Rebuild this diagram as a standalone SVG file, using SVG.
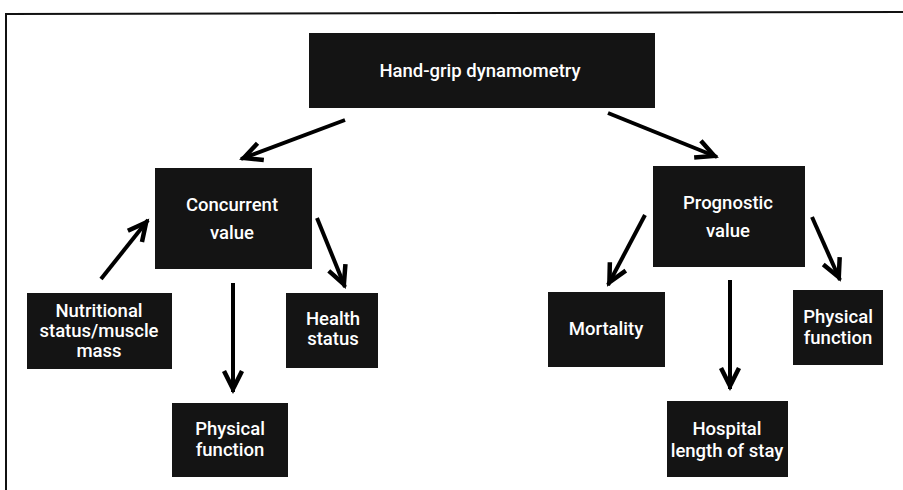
<svg xmlns="http://www.w3.org/2000/svg" width="903" height="490" viewBox="0 0 903 490">
  <style>
    .box { fill: #141414; }
    .lbl { fill: #ffffff; font-family: Roboto, "Liberation Sans", Arial, sans-serif; font-size: 18.5px; font-weight: 500; text-anchor: middle; }
    .arr { stroke: #000; stroke-width: 4; fill: none; marker-end: url(#head); }
    .frame { stroke: #111; stroke-width: 2; fill: none; }
  </style>
  <defs>
    <marker id="head" markerUnits="userSpaceOnUse" markerWidth="40" markerHeight="40" refX="0" refY="0" orient="auto" overflow="visible">
      <path d="M-21,-9 L-3,0 L-21,9" fill="none" stroke="#000" stroke-width="4.5" stroke-linejoin="miter" stroke-miterlimit="10"/>
    </marker>
  </defs>
  <rect width="903" height="490" fill="#ffffff"/>
  <path class="frame" d="M6,490 L6,14 L903,12"/>

  <g id="connectors">
    <line class="arr" x1="345" y1="120" x2="241" y2="159"/>
    <line class="arr" x1="608" y1="113" x2="717" y2="157"/>
    <line class="arr" x1="101" y1="279" x2="148" y2="220"/>
    <line class="arr" x1="233" y1="283" x2="233" y2="392"/>
    <line class="arr" x1="317" y1="218" x2="345" y2="287"/>
    <line class="arr" x1="645" y1="215" x2="608" y2="285"/>
    <line class="arr" x1="730" y1="280" x2="730" y2="389"/>
    <line class="arr" x1="812" y1="217" x2="840" y2="280"/>
  </g>

  <g id="hand-grip">
    <rect class="box" x="309" y="33" width="346" height="75"/>
    <text class="lbl" x="480" y="77">Hand-grip dynamometry</text>
  </g>
  <g id="concurrent">
    <rect class="box" x="155" y="168" width="157" height="101"/>
    <text class="lbl" x="232" y="211">Concurrent</text>
    <text class="lbl" x="232" y="239">value</text>
  </g>
  <g id="prognostic">
    <rect class="box" x="653" y="166" width="152" height="101"/>
    <text class="lbl" x="728" y="209">Prognostic</text>
    <text class="lbl" x="728" y="237">value</text>
  </g>
  <g id="nutritional">
    <rect class="box" x="27" y="293" width="145" height="76"/>
    <text class="lbl" x="99" y="317">Nutritional</text>
    <text class="lbl" x="99" y="337">status/muscle</text>
    <text class="lbl" x="99" y="357">mass</text>
  </g>
  <g id="health">
    <rect class="box" x="286" y="293" width="92" height="75"/>
    <text class="lbl" x="333" y="325">Health</text>
    <text class="lbl" x="333" y="345">status</text>
  </g>
  <g id="physical-left">
    <rect class="box" x="172" y="403" width="116" height="74"/>
    <text class="lbl" x="230" y="435">Physical</text>
    <text class="lbl" x="230" y="456">function</text>
  </g>
  <g id="mortality">
    <rect class="box" x="548" y="292" width="117" height="75"/>
    <text class="lbl" x="606" y="335">Mortality</text>
  </g>
  <g id="hospital">
    <rect class="box" x="667" y="401" width="121" height="76"/>
    <text class="lbl" x="727" y="435">Hospital</text>
    <text class="lbl" x="727" y="457">length of stay</text>
  </g>
  <g id="physical-right">
    <rect class="box" x="793" y="290" width="90" height="75"/>
    <text class="lbl" x="838" y="323">Physical</text>
    <text class="lbl" x="838" y="344">function</text>
  </g>
</svg>
